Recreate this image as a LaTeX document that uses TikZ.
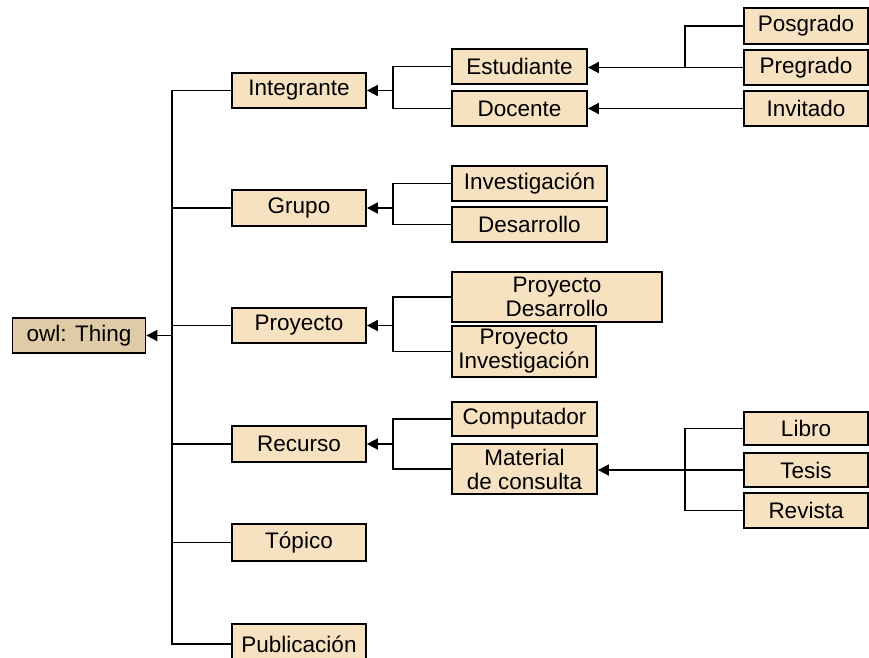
\documentclass[tikz,border=0pt]{standalone}
\usepackage{fontspec}
\setmainfont{Liberation Sans}
\usetikzlibrary{arrows.meta}
\definecolor{boxfill}{HTML}{F6E2C1}
\definecolor{owlfill}{HTML}{DFCBA6}
\tikzset{
  box/.style={draw=black, line width=1.8pt, fill=boxfill, inner sep=0pt, align=center,
    font=\fontsize{22.5}{24}\selectfont},
  conn/.style={line width=1.8pt},
  arr/.style={line width=1.8pt, -{Triangle[length=11pt,width=11pt]}},
}
\newcommand{\bx}[6]{% name, l, t, r, b, text
  \node[box, minimum width={(#4-#2)*1pt}, minimum height={(#5-#3)*1pt}] (#1) at ({(#2+#4)/2},{(#3+#5)/2}) {#6};}
\begin{document}
\begin{tikzpicture}[x=1pt,y=-1pt]
\useasboundingbox (0,0) rectangle (869,657);
\clip (0,0) rectangle (869,657);
% root
\node[box, fill=owlfill, minimum width=133pt, minimum height=35pt] (owl) at (79,335.5) {owl: Thing};
% level 1
\bx{integrante}{232}{73}{366}{108}{Integrante}
\bx{grupo}{232}{190}{366}{226}{Grupo}
\bx{proyecto}{232}{308}{366}{343}{Proyecto}
\bx{recurso}{232}{426}{366}{462}{Recurso}
\bx{topico}{232}{524}{366}{561}{Tópico}
\bx{publicacion}{232}{624}{366}{664}{Publicación}
% level 2
\bx{estudiante}{452}{49}{587}{84}{Estudiante}
\bx{docente}{452}{91}{587}{126}{Docente}
\bx{investigacion}{452}{166}{607}{201}{Investigación}
\bx{desarrollo}{452}{207}{607}{242}{Desarrollo}
\bx{pdesarrollo}{452}{272}{662}{322}{Proyecto\\Desarrollo}
\bx{pinvestigacion}{452}{326}{596}{377}{Proyecto\\Investigación}
\bx{computador}{452}{402}{597}{436}{Computador}
\bx{material}{452}{444}{597}{494}{Material\\de consulta}
% level 3
\bx{posgrado}{744}{8}{868}{44}{Posgrado}
\bx{pregrado}{744}{50}{868}{85}{Pregrado}
\bx{invitado}{744}{91}{868}{126}{Invitado}
\bx{libro}{744}{412}{868}{445}{Libro}
\bx{tesis}{744}{453}{868}{487}{Tesis}
\bx{revista}{744}{493}{868}{528}{Revista}
% bracket x positions
\coordinate (trk) at (172,0);
\coordinate (b1) at (393,0);
\coordinate (b2) at (685,0);
% trunk
\draw[conn] (integrante.west) -- (integrante.west -| trk) -- (publicacion.west -| trk) -- (publicacion.west);
\foreach \n in {grupo,proyecto,recurso,topico}
  \draw[conn] (\n.west) -- (\n.west -| trk);
\draw[arr] (owl.east -| trk) -- (owl.east);
% level-2 brackets
\draw[conn] (estudiante.west) -- (estudiante.west -| b1) -- (docente.west -| b1) -- (docente.west);
\draw[arr] (integrante.east -| b1) -- (integrante.east);
\draw[conn] (investigacion.west) -- (investigacion.west -| b1) -- (desarrollo.west -| b1) -- (desarrollo.west);
\draw[arr] (grupo.east -| b1) -- (grupo.east);
\draw[conn] (pdesarrollo.west) -- (pdesarrollo.west -| b1) -- (pinvestigacion.west -| b1) -- (pinvestigacion.west);
\draw[arr] (proyecto.east -| b1) -- (proyecto.east);
\draw[conn] (computador.west) -- (computador.west -| b1) -- (material.west -| b1) -- (material.west);
\draw[arr] (recurso.east -| b1) -- (recurso.east);
% level-3 brackets
\draw[conn] (posgrado.west) -- (posgrado.west -| b2) -- (pregrado.west -| b2);
\draw[arr] (pregrado.west) -- (pregrado.west -| estudiante.east);
\draw[arr] (invitado.west) -- (invitado.west -| docente.east);
\draw[conn] (libro.west) -- (libro.west -| b2) -- (revista.west -| b2) -- (revista.west);
\draw[arr] (tesis.west) -- (tesis.west -| material.east);
\end{tikzpicture}
\end{document}
